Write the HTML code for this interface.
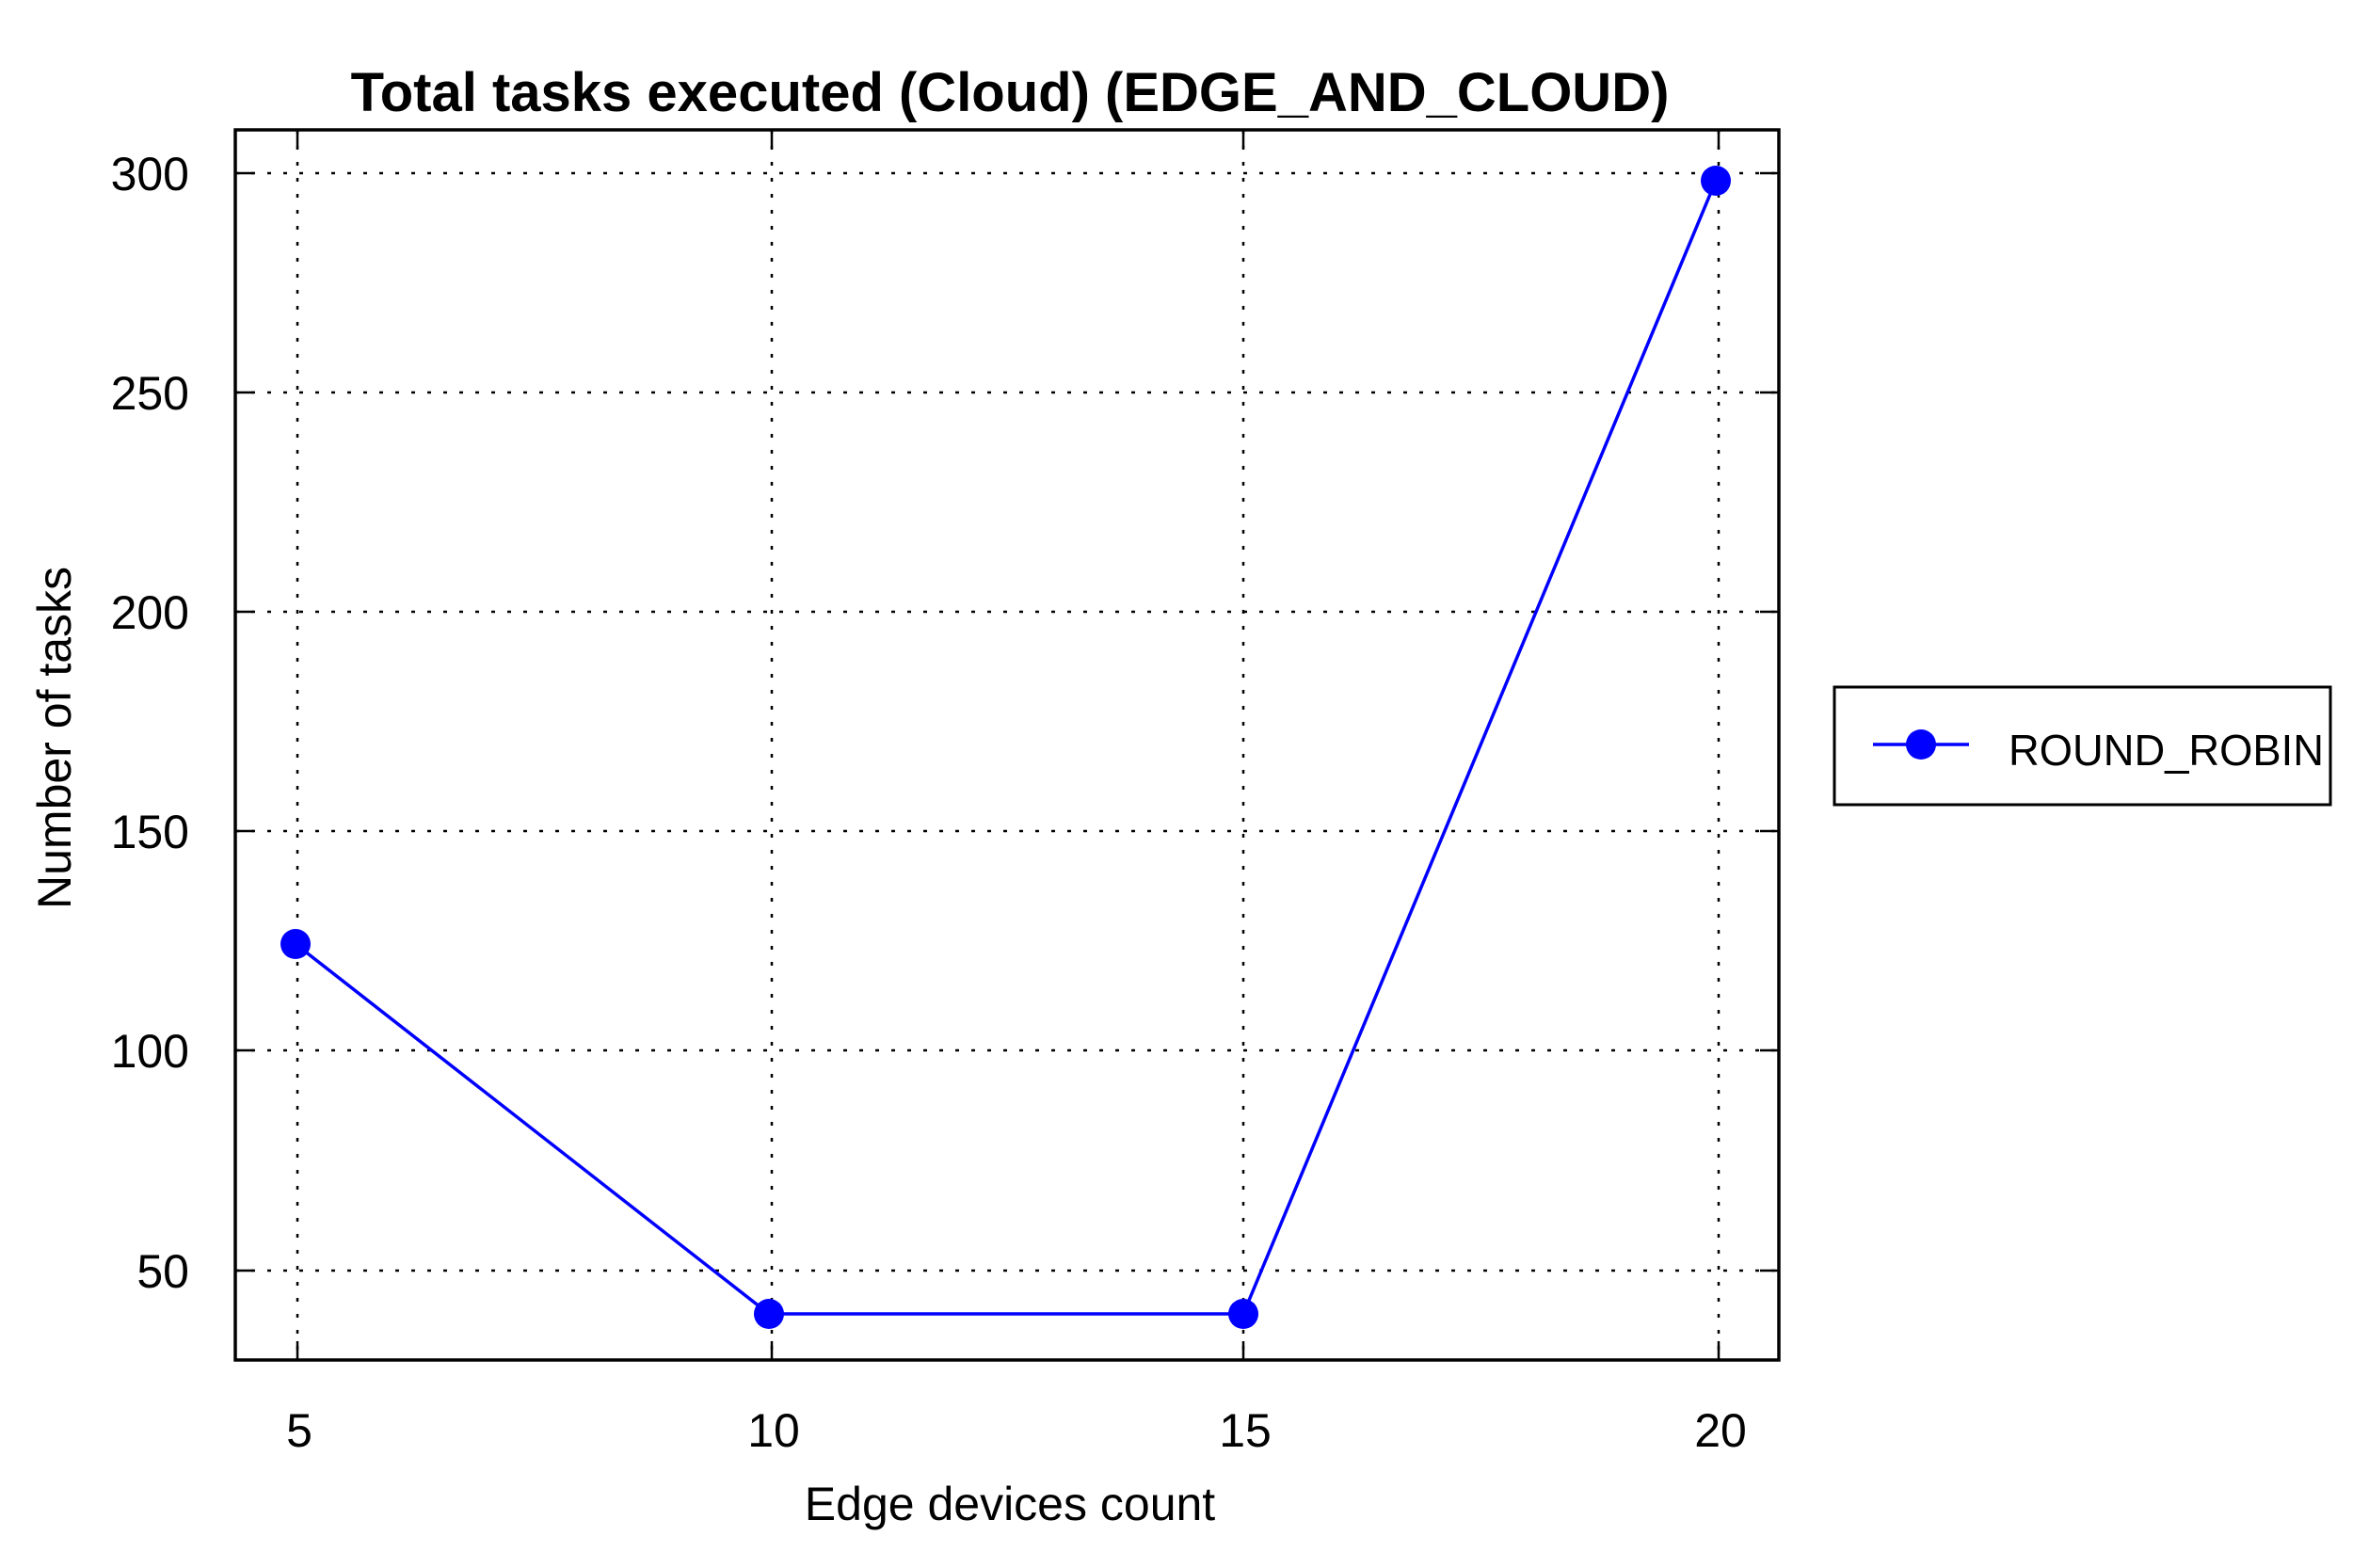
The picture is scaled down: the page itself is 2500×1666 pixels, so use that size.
<!DOCTYPE html>
<html><head><meta charset="utf-8"><style>
html,body{margin:0;padding:0;background:#fff;}
svg{display:block;}
text{font-family:"Liberation Sans",Arial,sans-serif;fill:#000;}
</style></head><body>
<svg width="2500" height="1666" viewBox="0 0 2500 1666" xmlns="http://www.w3.org/2000/svg">
<rect width="2500" height="1666" fill="#fff"/>
<text x="1073" y="118" font-size="58" font-weight="bold" text-anchor="middle">Total tasks executed (Cloud) (EDGE_AND_CLOUD)</text>
<g stroke="#000" stroke-width="2.5" stroke-dasharray="4 13" fill="none">
<line x1="250" y1="184" x2="1890" y2="184"/>
<line x1="250" y1="417" x2="1890" y2="417"/>
<line x1="250" y1="650" x2="1890" y2="650"/>
<line x1="250" y1="883" x2="1890" y2="883"/>
<line x1="250" y1="1116" x2="1890" y2="1116"/>
<line x1="250" y1="1350" x2="1890" y2="1350"/>
<line x1="316" y1="138" x2="316" y2="1445"/>
<line x1="820" y1="138" x2="820" y2="1445"/>
<line x1="1321" y1="138" x2="1321" y2="1445"/>
<line x1="1826" y1="138" x2="1826" y2="1445"/>
</g>
<g stroke="#000" stroke-width="2.5">
<line x1="250" y1="184" x2="270" y2="184"/><line x1="1870" y1="184" x2="1890" y2="184"/>
<line x1="250" y1="417" x2="270" y2="417"/><line x1="1870" y1="417" x2="1890" y2="417"/>
<line x1="250" y1="650" x2="270" y2="650"/><line x1="1870" y1="650" x2="1890" y2="650"/>
<line x1="250" y1="883" x2="270" y2="883"/><line x1="1870" y1="883" x2="1890" y2="883"/>
<line x1="250" y1="1116" x2="270" y2="1116"/><line x1="1870" y1="1116" x2="1890" y2="1116"/>
<line x1="250" y1="1350" x2="270" y2="1350"/><line x1="1870" y1="1350" x2="1890" y2="1350"/>
<line x1="316" y1="138" x2="316" y2="158"/><line x1="316" y1="1425" x2="316" y2="1445"/>
<line x1="820" y1="138" x2="820" y2="158"/><line x1="820" y1="1425" x2="820" y2="1445"/>
<line x1="1321" y1="138" x2="1321" y2="158"/><line x1="1321" y1="1425" x2="1321" y2="1445"/>
<line x1="1826" y1="138" x2="1826" y2="158"/><line x1="1826" y1="1425" x2="1826" y2="1445"/>
</g>
<rect x="250" y="138" width="1640" height="1307" fill="none" stroke="#000" stroke-width="3.5"/>
<g font-size="50" text-anchor="end">
<text x="201" y="202">300</text>
<text x="201" y="435">250</text>
<text x="201" y="668">200</text>
<text x="201" y="901">150</text>
<text x="201" y="1134">100</text>
<text x="201" y="1368">50</text>
</g>
<g font-size="50" text-anchor="middle">
<text x="318" y="1537">5</text>
<text x="822" y="1537">10</text>
<text x="1323" y="1537">15</text>
<text x="1828" y="1537">20</text>
</g>
<text x="1073" y="1615" font-size="50" text-anchor="middle">Edge devices count</text>
<text transform="translate(75,784) rotate(-90)" font-size="50" text-anchor="middle">Number of tasks</text>
<polyline points="314,1003 817,1396 1321,1396 1823,192" fill="none" stroke="#0000ff" stroke-width="3.5"/>
<g fill="#0000ff">
<circle cx="314" cy="1003" r="16"/>
<circle cx="817" cy="1396" r="16"/>
<circle cx="1321" cy="1396" r="16"/>
<circle cx="1823" cy="192" r="16"/>
</g>
<rect x="1949" y="730" width="527" height="125" fill="none" stroke="#000" stroke-width="3"/>
<line x1="1990" y1="791" x2="2092" y2="791" stroke="#0000ff" stroke-width="3.5"/>
<circle cx="2041" cy="791" r="16" fill="#0000ff"/>
<text x="2134" y="813" font-size="46" textLength="335" lengthAdjust="spacingAndGlyphs">ROUND_ROBIN</text>
</svg>
</body></html>
